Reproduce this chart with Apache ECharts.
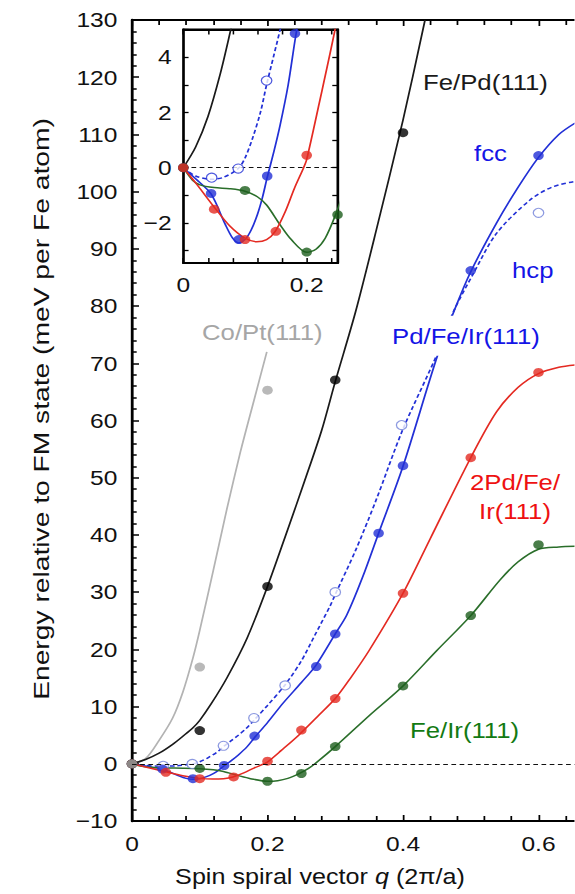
<!DOCTYPE html>
<html><head><meta charset="utf-8">
<script src="https://cdn.jsdelivr.net/npm/echarts@6/dist/echarts.min.js"></script>
<style>
html,body{margin:0;padding:0;background:#fff;overflow:hidden;width:575px;height:894px}
#wrap{width:575px;height:894px;overflow:hidden;position:relative;background:#fff}
#chart{position:absolute;left:0;top:0;height:894px;transform-origin:0 0}
</style></head>
<body><div id="wrap"><div id="chart"></div></div>
<script>
// ---------------- DATA ----------------
// main-axis tick labels
const mainXTickLabels = [0, 0.2, 0.4, 0.6];
const insetXTickLabels = [0, 0.2];
const insetYTickLabels = [-2, 0, 2, 4];
const insetYTicks = [-3, -2, -1, 0, 1, 2, 3, 4, 5];

// fitted curves (q in 2pi/a, E in meV per Fe atom)
const qCoPt = [0, 0.02, 0.04, 0.06, 0.075, 0.09, 0.1, 0.12, 0.14, 0.16, 0.18, 0.199];
const eCoPt = [0, 0.9, 4.1, 8.0, 12.5, 18.5, 23.3, 33.8, 44.5, 54.5, 63.5, 72];

const qFePd = [0, 0.02, 0.04, 0.06, 0.076, 0.09, 0.1, 0.117, 0.14, 0.17, 0.2, 0.23, 0.255, 0.28, 0.3, 0.33, 0.36, 0.4, 0.4325];
const eFePd = [0, 0.75, 1.85, 3.4, 4.9, 6.3, 7.6, 10.5, 15, 22, 31, 41, 49.5, 58.3, 66.8, 79, 93, 112.5, 130];

const qFcc = [0, 0.02, 0.045, 0.068, 0.08, 0.09, 0.1, 0.11, 0.12, 0.128, 0.136, 0.147, 0.157, 0.17, 0.181, 0.2, 0.223, 0.25, 0.272, 0.3, 0.317, 0.34, 0.364, 0.4, 0.45, 0.477, 0.5, 0.538, 0.57, 0.6, 0.63, 0.654];
const eFcc = [0, -0.4, -0.95, -2.05, -2.55, -2.72, -2.6, -2.25, -1.7, -1.1, -0.35, 0.6, 1.55, 3.0, 4.6, 7.2, 10.6, 14.2, 17.3, 22.7, 26, 32.5, 40.3, 52, 71, 79.6, 86, 94.5, 100.8, 106, 110, 112];

const qHcp = [0, 0.02, 0.045, 0.065, 0.089, 0.1, 0.112, 0.125, 0.135, 0.146, 0.157, 0.168, 0.18, 0.2, 0.226, 0.25, 0.27, 0.292, 0.3, 0.33, 0.36, 0.4, 0.45, 0.474, 0.504, 0.538, 0.587, 0.62, 0.654];
const eHcp = [0, -0.3, -0.42, -0.35, -0.03, 0.35, 1.05, 2.0, 3.0, 4.0, 5.0, 6.1, 7.6, 10.2, 13.8, 18.0, 22.5, 27.5, 29.6, 37.3, 46, 58.5, 71.5, 78.9, 85.7, 92.7, 98.5, 100.8, 101.8];

const q2Pd = [0, 0.02, 0.051, 0.075, 0.1, 0.119, 0.135, 0.149, 0.165, 0.18, 0.195, 0.2, 0.22, 0.246, 0.275, 0.3, 0.322, 0.35, 0.4, 0.44, 0.5, 0.538, 0.57, 0.6, 0.63, 0.654];
const e2Pd = [0, -0.55, -1.45, -2.1, -2.55, -2.68, -2.6, -2.3, -1.6, -0.75, 0, 0.3, 2.3, 5.0, 8.4, 11.4, 14.9, 19.8, 29.8, 39.3, 53.5, 61.5, 65.8, 68.2, 69.3, 69.7];

const qFeIr = [0, 0.015, 0.027, 0.05, 0.075, 0.1, 0.12, 0.135, 0.157, 0.175, 0.2, 0.215, 0.23, 0.246, 0.26, 0.27, 0.3, 0.35, 0.4, 0.45, 0.5, 0.543, 0.57, 0.6, 0.63, 0.654];
const eFeIr = [0, -0.45, -0.62, -0.72, -0.76, -0.85, -1.05, -1.35, -2.07, -2.6, -3.06, -2.95, -2.55, -1.75, -0.85, 0, 3.0, 8.4, 13.6, 19.8, 25.9, 32.1, 35.3, 37.5, 37.9, 38.0];

// calculated points
const dotCoPtQ = [0, 0.1, 0.2];
const dotCoPtE = [0, 16.9, 65.3];
const dotFePdQ = [0, 0.1, 0.2, 0.3, 0.4];
const dotFePdE = [0, 5.8, 31, 67.1, 110.3];
const dotFccQ = [0, 0.045, 0.09, 0.136, 0.181, 0.272, 0.3, 0.364, 0.4, 0.5, 0.6];
const dotFccE = [0, -0.93, -2.6, -0.3, 4.85, 17, 22.7, 40.3, 52.1, 86.2, 106.3];
const dotHcpQ = [0.046, 0.089, 0.135, 0.18, 0.226, 0.3, 0.398, 0.6];
const dotHcpE = [-0.36, -0.03, 3.15, 8.0, 13.7, 30.0, 59.2, 96.3];
const dot2PdQ = [0, 0.05, 0.1, 0.15, 0.2, 0.25, 0.3, 0.4, 0.5, 0.6];
const dot2PdE = [0, -1.5, -2.6, -2.3, 0.45, 5.9, 11.4, 29.8, 53.5, 68.4];
const dotFeIrQ = [0, 0.1, 0.2, 0.25, 0.3, 0.4, 0.5, 0.6];
const dotFeIrE = [0, -0.82, -3.05, -1.7, 3.0, 13.6, 25.9, 38.3];

// ---------------- LAYOUT / STYLE ----------------
const S = 1.17;            // horizontal stretch of the original figure
const W = 575 / S;
const el = document.getElementById('chart');
el.style.width = W + 'px';
el.style.transform = 'scaleX(' + S + ')';

const FONT = "'Liberation Sans', Arial, Helvetica, sans-serif";
const C = {
  black: '#1a1a1a', gray: '#b3b3b3', grayText: '#a6a6a6',
  blue: '#2230d6', blueText: '#1414e6', red: '#e42a22', redText: '#ee1111',
  green: '#2a6e2a', greenDot: '#1d5e1d', greenText: '#137a13'
};
const zip = (a, b) => a.map((v, i) => [v, b[i]]);
const fmtNum = v => {
  const r = Math.round(v * 1000) / 1000;
  return r < 0 ? '\u2212' + Math.abs(r) : String(r);
};
const inList = (list, v) => list.some(t => Math.abs(t - v) < 1e-6);

function curve(q, e, color, xi, yi, dashed, z) {
  return {
    type: 'line', xAxisIndex: xi, yAxisIndex: yi, data: zip(q, e),
    showSymbol: false, smooth: 0.3, silent: true, animation: false, z: z,
    lineStyle: { color: color, width: 1.5, type: dashed ? [4, 2.5] : 'solid' }
  };
}
function dots(q, e, color, xi, yi, open, z) {
  return {
    type: 'scatter', xAxisIndex: xi, yAxisIndex: yi, data: zip(q, e),
    symbol: 'circle', symbolSize: 9, silent: true, animation: false, z: z,
    itemStyle: open ? { color: '#fff', borderColor: color, borderWidth: 1.1 }
                    : { color: color, borderWidth: 0 }
  };
}
function zeroLine(xi, yi, z) {
  return {
    type: 'line', xAxisIndex: xi, yAxisIndex: yi, data: [], silent: true, z: z, animation: false,
    markLine: { silent: true, symbol: 'none', animation: false, label: { show: false },
      lineStyle: { color: '#111', width: 1.2, type: [4, 3] }, data: [{ yAxis: 0 }] }
  };
}

// main grid (css px -> chart px via /S horizontally)
const mainLeft = 132 / S, mainWidth = 542 / S, mainTop = 20, mainHeight = 801;
const inLeft = 183.3 / S, inWidth = 154.25 / S, inTop = 29.45, inHeight = 233.65;

const tickLabel = { color: '#111', fontSize: 21, fontFamily: FONT };

const option = {
  backgroundColor: '#fff',
  animation: false,
  grid: [
    { left: mainLeft, top: mainTop, width: mainWidth, height: mainHeight, outerBoundsMode: 'none', containLabel: false },
    { left: inLeft, top: inTop, width: inWidth, height: inHeight, outerBoundsMode: 'none', containLabel: false, z: 10 }
  ],
  xAxis: [
    { gridIndex: 0, type: 'value', min: 0, max: 0.8, interval: 0.2, position: 'bottom',
      axisLine: { show: true, onZero: false, lineStyle: { color: '#000', width: 2 } },
      axisTick: { show: true, inside: true, length: 6, lineStyle: { color: '#000', width: 1.5 } },
      minorTick: { show: true, splitNumber: 5, length: 5, lineStyle: { color: '#000', width: 1.5 } },
      splitLine: { show: false }, minorSplitLine: { show: false },
      axisLabel: Object.assign({ margin: 12, formatter: v => inList(mainXTickLabels, v) ? fmtNum(v) : '' }, tickLabel) },
    { gridIndex: 0, type: 'value', min: 0, max: 0.8, interval: 0.2, position: 'top',
      axisLine: { show: true, onZero: false, lineStyle: { color: '#000', width: 2 } },
      axisTick: { show: true, inside: true, length: 6, lineStyle: { color: '#000', width: 1.5 } },
      minorTick: { show: true, splitNumber: 5, length: 5, lineStyle: { color: '#000', width: 1.5 } },
      splitLine: { show: false }, axisLabel: { show: false } },
    { gridIndex: 1, type: 'value', min: 0, max: 0.25, interval: 0.04, position: 'bottom', z: 10,
      axisLine: { show: true, onZero: false, lineStyle: { color: '#000', width: 1.8 } },
      axisTick: { show: true, inside: true, length: 5, lineStyle: { color: '#000', width: 1.3 } },
      splitLine: { show: false },
      axisLabel: Object.assign({ margin: 11, showMaxLabel: false,
        formatter: v => inList(insetXTickLabels, v) ? fmtNum(v) : '' }, tickLabel) },
    { gridIndex: 1, type: 'value', min: 0, max: 0.25, interval: 0.04, position: 'top', z: 10,
      axisLine: { show: true, onZero: false, lineStyle: { color: '#000', width: 1.8 } },
      axisTick: { show: true, inside: true, length: 5, lineStyle: { color: '#000', width: 1.3 } },
      splitLine: { show: false }, axisLabel: { show: false } }
  ],
  yAxis: [
    { gridIndex: 0, type: 'value', min: -10, max: 130, interval: 10, position: 'left',
      axisLine: { show: true, onZero: false, lineStyle: { color: '#000', width: 2.4 } },
      axisTick: { show: true, inside: true, length: 6, lineStyle: { color: '#000', width: 1.5 } },
      minorTick: { show: true, splitNumber: 5, length: 4, lineStyle: { color: '#000', width: 1.5 } },
      splitLine: { show: false }, minorSplitLine: { show: false },
      axisLabel: Object.assign({ margin: 12.5, formatter: v => fmtNum(v) }, tickLabel) },
    { gridIndex: 1, type: 'value', min: -3.45, max: 5, position: 'left', z: 10,
      axisLine: { show: true, onZero: false, lineStyle: { color: '#000', width: 1.8 } },
      axisTick: { show: true, inside: true, length: 4.5, customValues: insetYTicks, lineStyle: { color: '#000', width: 1.3 } },
      splitLine: { show: false },
      axisLabel: Object.assign({ margin: 10, customValues: insetYTickLabels, formatter: v => fmtNum(v) }, tickLabel) },
    { gridIndex: 1, type: 'value', min: -3.45, max: 5, position: 'right', z: 10,
      axisLine: { show: true, onZero: false, lineStyle: { color: '#000', width: 1.8 } },
      axisTick: { show: true, inside: true, length: 4.5, customValues: insetYTicks, lineStyle: { color: '#000', width: 1.3 } },
      splitLine: { show: false }, axisLabel: { show: false } }
  ],
  series: [
    // main
    zeroLine(0, 0, 2),
    curve(qCoPt, eCoPt, C.gray, 0, 0, false, 2),
    curve(qFePd, eFePd, C.black, 0, 0, false, 2),
    curve(qHcp, eHcp, C.blue, 0, 0, true, 2),
    curve(qFcc, eFcc, C.blue, 0, 0, false, 2),
    curve(qFeIr, eFeIr, C.green, 0, 0, false, 2),
    curve(q2Pd, e2Pd, C.red, 0, 0, false, 2),
    dots(dotHcpQ, dotHcpE, '#6f7fd8', 0, 0, true, 3),
    dots(dotFccQ, dotFccE, C.blue, 0, 0, false, 3),
    dots(dotFeIrQ, dotFeIrE, C.greenDot, 0, 0, false, 3),
    dots(dot2PdQ, dot2PdE, C.red, 0, 0, false, 3),
    dots(dotFePdQ, dotFePdE, '#000', 0, 0, false, 3),
    dots(dotCoPtQ, dotCoPtE, '#a8a8a8', 0, 0, false, 3),
    // inset
    zeroLine(2, 1, 11),
    curve(qFePd, eFePd, C.black, 2, 1, false, 11),
    curve(qHcp, eHcp, C.blue, 2, 1, true, 11),
    curve(qFcc, eFcc, C.blue, 2, 1, false, 11),
    curve(qFeIr, eFeIr, C.green, 2, 1, false, 11),
    curve(q2Pd, e2Pd, C.red, 2, 1, false, 11),
    dots(dotHcpQ, dotHcpE, C.blue, 2, 1, true, 12),
    dots(dotFccQ, dotFccE, C.blue, 2, 1, false, 12),
    dots(dotFeIrQ, dotFeIrE, C.greenDot, 2, 1, false, 12),
    dots(dot2PdQ, dot2PdE, C.red, 2, 1, false, 12)
  ],
  graphic: [
    { type: 'rect', z: 5, silent: true,
      shape: { x: inLeft, y: inTop, width: inWidth, height: inHeight },
      style: { fill: '#fff', stroke: '#000', lineWidth: 1.8 } },
    { type: 'text', z: 6, x: 423 / S, y: 81.7, silent: true,
      style: { text: 'Fe/Pd(111)', fill: C.black, font: '22px ' + FONT, align: 'left', verticalAlign: 'middle' } },
    { type: 'text', z: 6, x: 474 / S, y: 153, silent: true,
      style: { text: 'fcc', fill: C.blueText, font: '22px ' + FONT, align: 'left', verticalAlign: 'middle' } },
    { type: 'text', z: 6, x: 512 / S, y: 270, silent: true,
      style: { text: 'hcp', fill: C.blueText, font: '22px ' + FONT, align: 'left', verticalAlign: 'middle' } },
    { type: 'text', z: 6, x: 392 / S, y: 335.7, silent: true,
      style: { text: 'Pd/Fe/Ir(111)', fill: C.blueText, font: '22px ' + FONT, align: 'left', verticalAlign: 'middle',
               backgroundColor: '#fff', padding: [9, 0, 9, 0] } },
    { type: 'text', z: 6, x: 515 / S, y: 496.7, silent: true,
      style: { text: '2Pd/Fe/\nIr(111)', fill: C.redText, font: '22px ' + FONT, align: 'center', verticalAlign: 'middle', lineHeight: 30 } },
    { type: 'text', z: 6, x: 202 / S, y: 331.7, silent: true,
      style: { text: 'Co/Pt(111)', fill: C.grayText, font: '22px ' + FONT, align: 'left', verticalAlign: 'middle' } },
    { type: 'text', z: 6, x: 410 / S, y: 730, silent: true,
      style: { text: 'Fe/Ir(111)', fill: C.greenText, font: '22px ' + FONT, align: 'left', verticalAlign: 'middle' } },
    { type: 'text', z: 6, x: 320 / S, y: 877, silent: true,
      style: { text: '{a|Spin spiral vector }{b|q}{a| (2\u03c0/a)}', align: 'center', verticalAlign: 'middle', fill: '#111',
               rich: { a: { fontSize: 21.5, fontFamily: FONT, fill: '#111' },
                       b: { fontSize: 21.5, fontFamily: FONT, fontStyle: 'italic', fill: '#111' } } } },
    { type: 'text', z: 6, x: 41 / S, y: 409, rotation: Math.PI / 2, scaleX: 1.283, scaleY: 1 / S, silent: true,
      style: { text: 'Energy relative to FM state (meV per Fe atom)', fill: '#111', font: '22px ' + FONT,
               align: 'center', verticalAlign: 'middle' } }
  ]
};

const chart = echarts.init(el, null, { renderer: 'svg', width: W, height: 894 });
chart.setOption(option);
</script>
</body></html>
